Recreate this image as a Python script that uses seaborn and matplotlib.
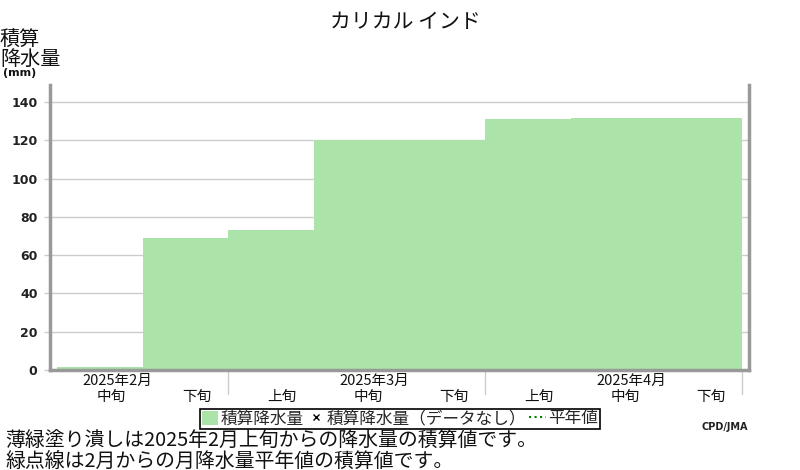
import numpy as np
import pandas as pd
import matplotlib
matplotlib.use("Agg")
import matplotlib.pyplot as plt
import matplotlib.transforms as mtransforms
from matplotlib.patches import Patch
from matplotlib.lines import Line2D
import seaborn as sns

# data
months = ["2025年2月", "2025年2月", "2025年3月", "2025年3月", "2025年3月",
          "2025年4月", "2025年4月", "2025年4月"]
dekads = ["中旬", "下旬", "上旬", "中旬", "下旬", "上旬", "中旬", "下旬"]
accum_precip = [1.5, 69, 73, 120, 120, 131, 132, 132]
month_labels = ["2025年2月", "2025年3月", "2025年4月"]
yticks = [0, 20, 40, 60, 80, 100, 120, 140]

GREEN = "#abe3a9"
GRID = "#cccccc"
SPINE = "#999999"

sns.set_style("white")
plt.rcParams["font.family"] = ["Noto Sans CJK JP", "DejaVu Sans"]

df = pd.DataFrame({
    "key": [m + d for m, d in zip(months, dekads)],
    "value": accum_precip,
})

fig = plt.figure(figsize=(8, 4.7), dpi=100)
ax = fig.add_axes([50 / 800, (470 - 370) / 470, 699 / 800, 285 / 470])

sns.barplot(data=df, x="key", y="value", color=GREEN, saturation=1,
            width=1.0, linewidth=0, ax=ax, zorder=2)

ax.set_xlim(-0.58, 7.58)
ax.set_ylim(0, 149)
ax.set_yticks(yticks)
ax.set_yticklabels([str(v) for v in yticks], fontsize=9, fontweight="bold",
                   color="#222222", family="DejaVu Sans")
ax.tick_params(axis="y", length=4, width=1, color=GRID, pad=5, left=True)
ax.set_xticks([])
ax.set_xlabel("")
ax.set_ylabel("")
for v in yticks:
    ax.axhline(v, color=GRID, lw=1, zorder=1)

for side in ("left", "right", "bottom"):
    ax.spines[side].set_color(SPINE)
    ax.spines[side].set_linewidth(2.5)
ax.spines["top"].set_visible(False)

# x-axis labels: dekads and months, plus month separators
trans = mtransforms.blended_transform_factory(ax.transData, ax.transAxes)
for i, d in enumerate(dekads):
    ax.text(i + 0.13, -0.095, d, transform=trans, ha="center", va="center",
            fontsize=10.5, color="#111111")
mid_idx = [i for i, d in enumerate(dekads) if d == "中旬"]
for i, m in zip(mid_idx, month_labels):
    ax.text(i + 0.21, -0.04, m, transform=trans, ha="center", va="center",
            fontsize=10.5, color="#111111")
for i in range(len(dekads)):
    if dekads[i] == "下旬":
        ax.plot([i + 0.5, i + 0.5], [0, -0.085], transform=trans,
                color=GRID, lw=1, clip_on=False)

# title and y label
fig.text(405 / 800, 1 - 22 / 470, "カリカル インド", ha="center", va="center",
         fontsize=15, color="#111111")
fig.text(0.0, 1 - 40 / 470, "積算", ha="left", va="center", fontsize=14.5,
         color="#111111")
fig.text(0.0, 1 - 59 / 470, "降水量", ha="left", va="center", fontsize=14.5,
         color="#111111")
fig.text(3 / 800, 1 - 73 / 470, "(mm)", ha="left", va="center", fontsize=8,
         fontweight="bold", family="DejaVu Sans", color="#111111")

# legend
handles = [
    Patch(facecolor=GREEN, edgecolor="none"),
    Line2D([], [], color="black", marker="x", linestyle="none", markersize=5),
    Line2D([], [], color="green", linestyle=":", lw=1.5),
]
labels = ["積算降水量", "積算降水量（データなし）", "平年値"]
leg = fig.legend(handles, labels, loc="center",
                 bbox_to_anchor=(400 / 800, 1 - 419 / 470), ncol=3,
                 frameon=True, fancybox=False, edgecolor="black",
                 framealpha=1, fontsize=12, handlelength=1.0,
                 handleheight=0.9, handletextpad=0.15, columnspacing=0.2,
                 borderpad=0.1, borderaxespad=0)
leg.get_frame().set_linewidth(1.2)

fig.text(748 / 800, 1 - 427 / 470, "CPD/JMA", ha="right", va="center",
         fontsize=7, fontweight="bold", family="DejaVu Sans", color="#222222")

# footnotes
fig.text(5 / 800, 1 - 441 / 470, "薄緑塗り潰しは2025年2月上旬からの降水量の積算値です。",
         ha="left", va="center", fontsize=14.3, color="#111111")
fig.text(5 / 800, 1 - 461 / 470, "緑点線は2月からの月降水量平年値の積算値です。",
         ha="left", va="center", fontsize=14.3, color="#111111")

fig.savefig("out.png", dpi=100)
